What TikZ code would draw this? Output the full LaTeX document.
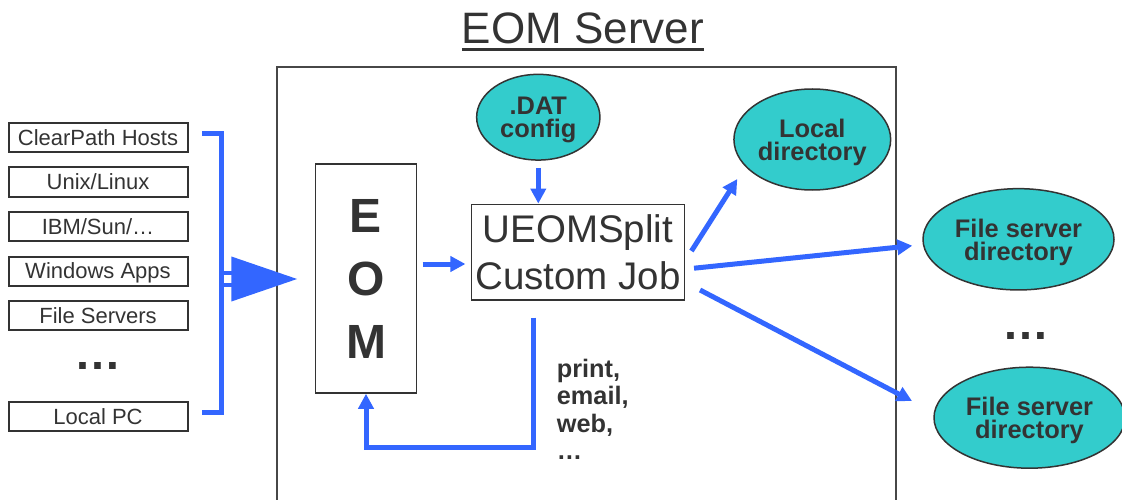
\documentclass[tikz,border=0pt]{standalone}
\usepackage{fontspec}
\setmainfont{Liberation Sans}
\usetikzlibrary{arrows.meta,calc,shapes.geometric}
\definecolor{flowblue}{RGB}{51,102,255}
\definecolor{dirteal}{RGB}{51,204,204}
\definecolor{boxgray}{RGB}{51,51,51}
\tikzset{
  srcbox/.style={draw=boxgray, line width=2pt, minimum width=179pt, minimum height=29pt, inner sep=0pt,
    text height=15.8pt, text depth=0pt, font=\fontsize{22}{24}\selectfont},
  jobbox/.style={draw=boxgray, line width=1.5pt, inner sep=0pt, align=center},
  dirnode/.style={ellipse, draw=boxgray, line width=1.5pt, fill=dirteal, inner sep=0pt, align=center,
    text depth=0pt, font=\bfseries\fontsize{25.4}{23}\selectfont},
  flow/.style={draw=flowblue, line width=5pt, -{Triangle[length=15pt,width=15pt]}},
  bracket/.style={draw=flowblue, line width=5pt},
}
\begin{document}
\begin{tikzpicture}[x=1pt,y=-1pt,text=boxgray]
\useasboundingbox (0,0) rectangle (1122,500);

% server frame and title
\draw[line width=1.5pt, draw=boxgray!90] (277,500) |- (896,67) -- (896,500);
\node[anchor=base, inner sep=0pt, font=\fontsize{44}{50}\selectfont] (title) at (583,44) {EOM Server};
\draw[line width=2.5pt, draw=boxgray] ([yshift=-5.5pt]title.base west) -- ([yshift=-5.5pt]title.base east);

% sources
\node[srcbox] (hosts) at (98,137.5) {ClearPath Hosts};
\node[srcbox] (unix) at (98,182) {Unix/Linux};
\node[srcbox] (ibm) at (98,226.5) {IBM/Sun/\dots};
\node[srcbox] (windows) at (98,271) {Windows Apps};
\node[srcbox] (fileservers) at (98,315.5) {File Servers};
\node[anchor=base, inner sep=0pt, font=\bfseries\fontsize{47}{50}\selectfont] (moresrc) at (97.8,369.3) {…};
\node[srcbox] (localpc) at (98,416.5) {Local PC};

% EOM and split job
\node[jobbox, minimum width=100.6pt, minimum height=229pt, font=\bfseries\fontsize{48}{63}\selectfont] (eom) at (366,278.5) {E\\O\\M};
\node[jobbox, minimum width=212.6pt, minimum height=95.7pt, font=\fontsize{38.5}{47}\selectfont] (split) at (578,252.2) {UEOMSplit\\Custom Job};

% directories
\node[dirnode, minimum width=123.3pt, minimum height=85.7pt] (dat) at (538.3,117.2) {.DAT\\config};
\node[dirnode, minimum width=156.7pt, minimum height=101pt] (local) at (812.3,139.5) {Local\\directory};
\node[dirnode, minimum width=191pt, minimum height=101.3pt] (fsa) at (1018.5,239.3) {File server\\directory};
\node[anchor=base, inner sep=0pt, font=\bfseries\fontsize{47}{50}\selectfont] (moredirs) at (1026,339.3) {…};
\node[dirnode, minimum width=191pt, minimum height=101pt] (fsb) at (1029.5,417.7) {File server\\directory};

% outputs
\node[anchor=north west, inner sep=0pt, align=left, font=\bfseries\fontsize{25.3}{27.5}\selectfont] (outputs) at (556.7,358.6) {print,\\email,\\web,\\…};

% fan-in from the sources
\coordinate (fanin) at (221,279);
\draw[draw=flowblue, double=white, double distance=8pt, line width=4pt, shorten <=2.5pt, shorten >=17.7pt,
  -{Triangle[length=66pt,width=44pt]}] (fanin) -- (eom.west |- fanin);
\draw[bracket] ([shift={(13.5,-4.2)}]hosts.east) -| (fanin) |- ([shift={(13.5,-4.2)}]localpc.east);

% flows
\draw[flow] ($(eom.east)+(5.5,-14.5)$) -- ($(split.west)+(-5.5,11.8)$);
\draw[flow, shorten <=7pt] (dat.south) -- (dat.south |- split.north);
\draw[flow] ($(split.south)+(-44.7,16.7)$) |- ($(eom.south)+(0,54)$) -- (eom.south);
\draw[flow] ($(split.east)+(6.4,-1.2)$) -- ($(local)+(-75,39.5)$);
\draw[flow] ($(split.east)+(9,16)$) -- ($(fsa)+(-106.2,6.4)$);
\draw[flow] ($(split.east)+(15,37.8)$) -- ($(fsb)+(-117.5,-16.7)$);

\end{tikzpicture}
\end{document}
